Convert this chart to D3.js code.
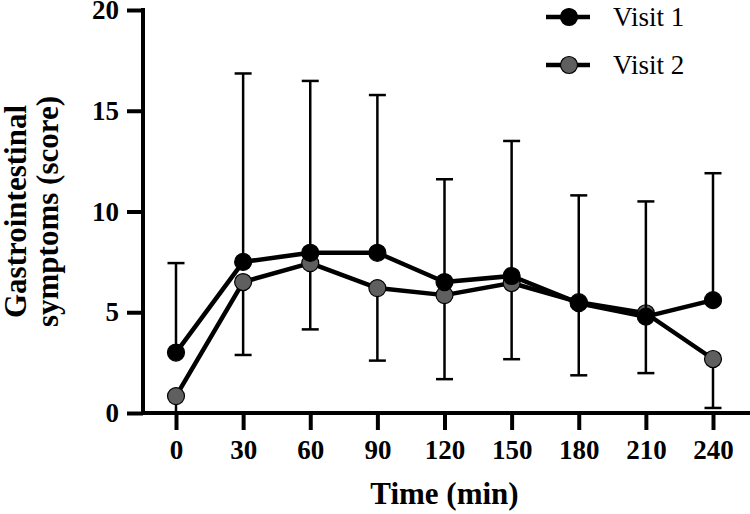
<!DOCTYPE html>
<html>
<head>
<meta charset="utf-8">
<script src="https://cdn.jsdelivr.net/npm/d3@7"></script>
<style>
  body { margin: 0; background: #fff; }
  svg text { font-family: "Liberation Serif", "Times New Roman", serif; }
</style>
</head>
<body>
<div id="chart"></div>
<script>
// time points (min)
var times = [0, 30, 60, 90, 120, 150, 180, 210, 240];
var xTicks = [0, 30, 60, 90, 120, 150, 180, 210, 240];
var yTicks = [0, 5, 10, 15, 20];

// Visit 1: mean, error shown upward
var visit1 = [3.0, 7.5, 7.95, 7.95, 6.5, 6.8, 5.45, 4.78, 5.6];
var visit1Sd = [4.44, 9.35, 8.53, 7.83, 5.1, 6.7, 5.35, 5.72, 6.3];
// Visit 2: mean, error shown downward
var visit2 = [0.84, 6.5, 7.44, 6.2, 5.85, 6.45, 5.5, 4.95, 2.68];
var visit2Sd = [1.6, 3.62, 3.29, 3.6, 4.17, 3.78, 3.63, 2.97, 2.43];

var W = 750, H = 514;
var svg = d3.select("#chart").append("svg")
  .attr("width", W)
  .attr("height", H);

var x = d3.scaleLinear().domain([0, 240]).range([176, 713]);
var y = d3.scaleLinear().domain([0, 20]).range([413, 10]);

// y axis
var yAxis = svg.append("g")
  .attr("transform", "translate(143,0)")
  .call(d3.axisLeft(y).tickValues(yTicks).tickSize(16).tickSizeOuter(0).tickPadding(8));
yAxis.select(".domain").attr("stroke-width", 4).attr("d", "M0," + (y(20) - 2) + "V" + (y(0) + 2));
yAxis.selectAll(".tick line").attr("stroke-width", 4);
yAxis.selectAll(".tick text")
  .style("font-family", "Liberation Serif")
  .style("font-weight", "bold")
  .style("font-size", "27px")
  .attr("fill", "#000");

// x axis
var xAxis = svg.append("g")
  .attr("transform", "translate(0," + y(0) + ")")
  .call(d3.axisBottom(x).tickValues(xTicks).tickSize(17).tickPadding(10));
xAxis.select(".domain").remove();
xAxis.append("line")
  .attr("x1", 141).attr("x2", W)
  .attr("stroke", "#000").attr("stroke-width", 4);
xAxis.selectAll(".tick line").attr("stroke-width", 4);
xAxis.selectAll(".tick text")
  .style("font-family", "Liberation Serif")
  .style("font-weight", "bold")
  .style("font-size", "27px")
  .attr("fill", "#000");

// axis titles
svg.append("text")
  .attr("x", (x(0) + x(240)) / 2)
  .attr("y", 504)
  .attr("text-anchor", "middle")
  .style("font-weight", "bold")
  .style("font-size", "31px")
  .text("Time (min)");

var yt = svg.append("text")
  .attr("transform", "translate(0," + ((y(0) + y(20)) / 2) + ") rotate(-90)")
  .attr("text-anchor", "middle")
  .style("font-weight", "bold")
  .style("font-size", "31px");
yt.append("tspan").attr("x", 0).attr("y", 26).text("Gastrointestinal");
yt.append("tspan").attr("x", 0).attr("y", 58).text("symptoms (score)");

function drawSeries(means, sds, dir, fill) {
  var g = svg.append("g");
  var rows = times.map(function(t, i) {
    var end = means[i] + dir * sds[i];
    return { t: t, m: means[i], end: Math.max(0, end), clipped: end < 0 };
  });

  // error bars
  g.selectAll(".eb").data(rows).enter().append("line")
    .attr("x1", function(d) { return x(d.t); })
    .attr("x2", function(d) { return x(d.t); })
    .attr("y1", function(d) { return y(d.m); })
    .attr("y2", function(d) { return y(d.end); })
    .attr("stroke", "#000").attr("stroke-width", 2.5);
  g.selectAll(".cap").data(rows.filter(function(d) { return !d.clipped; })).enter().append("line")
    .attr("x1", function(d) { return x(d.t) - 8.5; })
    .attr("x2", function(d) { return x(d.t) + 8.5; })
    .attr("y1", function(d) { return y(d.end); })
    .attr("y2", function(d) { return y(d.end); })
    .attr("stroke", "#000").attr("stroke-width", 2.5);

  var line = d3.line()
    .x(function(d) { return x(d.t); })
    .y(function(d) { return y(d.m); });
  g.append("path")
    .datum(rows)
    .attr("d", line)
    .attr("fill", "none")
    .attr("stroke", "#000")
    .attr("stroke-width", 4.5)
    .attr("stroke-linejoin", "round");

  g.selectAll(".pt").data(rows).enter().append("circle")
    .attr("cx", function(d) { return x(d.t); })
    .attr("cy", function(d) { return y(d.m); })
    .attr("r", 8.5)
    .attr("fill", fill)
    .attr("stroke", "#000")
    .attr("stroke-width", 1.2);
}

drawSeries(visit2, visit2Sd, -1, "#5f5f5f");
drawSeries(visit1, visit1Sd, 1, "#000");

// legend
var legend = [
  { name: "Visit 1", fill: "#000" },
  { name: "Visit 2", fill: "#5f5f5f" }
];
var lg = svg.selectAll(".lg").data(legend).enter().append("g")
  .attr("transform", function(d, i) { return "translate(546," + (17 + i * 48) + ")"; });
lg.append("line")
  .attr("x1", 0).attr("x2", 44)
  .attr("stroke", "#000").attr("stroke-width", 4.5);
lg.append("circle")
  .attr("cx", 23).attr("r", 8.5)
  .attr("fill", function(d) { return d.fill; })
  .attr("stroke", "#000").attr("stroke-width", 1.2);
lg.append("text")
  .attr("x", 67).attr("y", 9)
  .style("font-size", "27px")
  .text(function(d) { return d.name; });
</script>
</body>
</html>
